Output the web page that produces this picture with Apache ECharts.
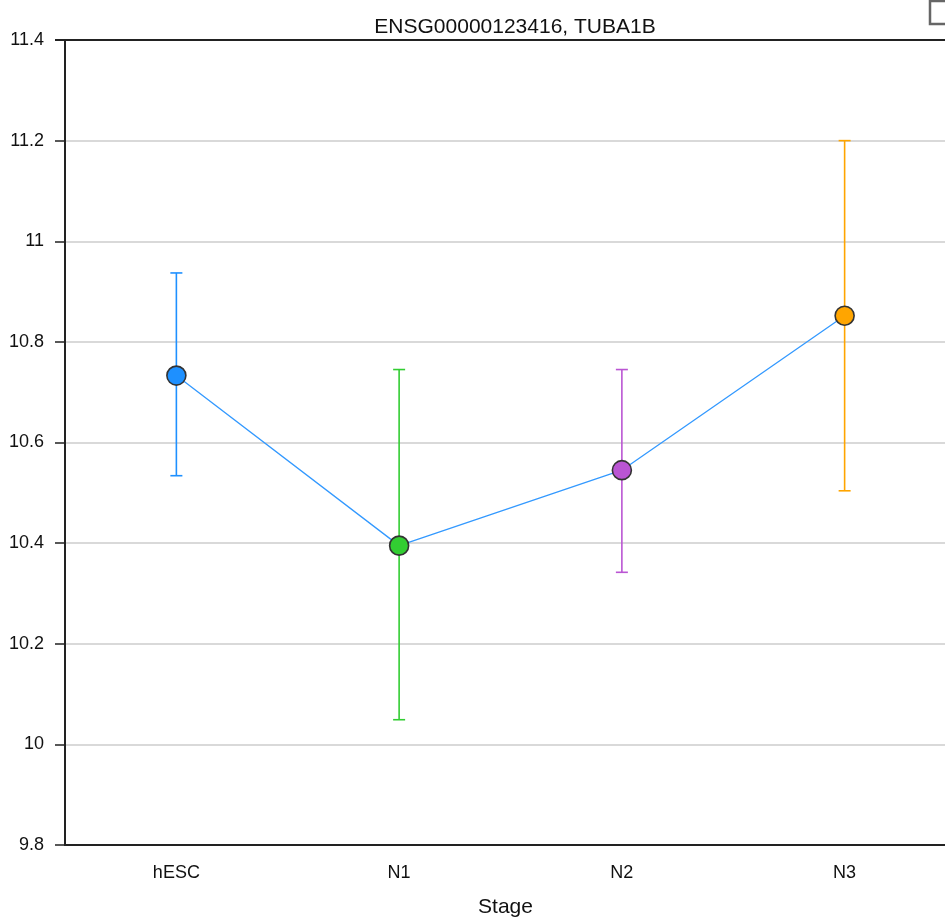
<!DOCTYPE html>
<html>
<head>
<meta charset="utf-8">
<title>TUBA1B</title>
<script src="https://cdn.jsdelivr.net/npm/echarts@6/dist/echarts.min.js"></script>
<style>
  html, body { margin: 0; padding: 0; background: #fff; overflow: hidden; }
  /* the plot runs past the right edge of the window, like the original */
  #chart { width: 956px; height: 923px; }
</style>
</head>
<body>
<div id="chart"></div>
<script>
// data
const stages = ['hESC', 'N1', 'N2', 'N3']
const means = [10.733, 10.395, 10.545, 10.852]
const upper = [10.937, 10.745, 10.745, 11.2]
const lower = [10.534, 10.049, 10.342, 10.504]
const colors = ['#1e90ff', '#32cd32', '#ba55d3', '#ffa500']

const chart = echarts.init(document.getElementById('chart'))

const errData = stages.map((s, i) => [i, lower[i], upper[i]])

const option = {
  animation: false,
  textStyle: { fontFamily: 'Liberation Sans, Arial, sans-serif' },
  title: {
    text: 'ENSG00000123416, TUBA1B',
    left: 510,
    textAlign: 'center',
    top: 12,
    textStyle: { fontSize: 21, fontWeight: 'normal', color: '#111' }
  },
  grid: { left: 65, top: 40, right: 0, bottom: 74, containLabel: false },
  xAxis: {
    type: 'category',
    data: stages,
    name: 'Stage',
    nameLocation: 'middle',
    nameGap: 52,
    nameTextStyle: { fontSize: 21, color: '#111', padding: [0, 0, 0, -10] },
    axisLine: { lineStyle: { color: '#222', width: 2 } },
    axisTick: { alignWithLabel: true, length: 7, lineStyle: { color: '#222', width: 1.5 } },
    axisLabel: { fontSize: 18, color: '#111', margin: 19 },
    splitLine: { show: false }
  },
  yAxis: {
    type: 'value',
    min: 9.8,
    max: 11.4,
    interval: 0.2,
    axisLine: { show: true, lineStyle: { color: '#222', width: 2 } },
    axisTick: { show: true, length: 10, lineStyle: { color: '#222', width: 1.5 } },
    axisLabel: {
      fontSize: 18, color: '#111', margin: 21,
      formatter: v => String(Math.round(v * 10) / 10)
    },
    splitLine: { lineStyle: { color: '#d9d9d9', width: 2 } }
  },
  graphic: [
    // top frame line
    { type: 'line', shape: { x1: 55, y1: 40, x2: 956, y2: 40 }, style: { stroke: '#222', lineWidth: 2 }, z: 10 },
    // small box in the corner
    { type: 'rect', shape: { x: 930, y: 1, width: 22, height: 23 }, style: { fill: '#fff', stroke: '#666', lineWidth: 2.5 }, z: 10 }
  ],
  series: [
    {
      type: 'custom',
      data: errData,
      z: 1,
      renderItem: (params, api) => {
        const i = api.value(0)
        const top = api.coord([i, api.value(2)])
        const bot = api.coord([i, api.value(1)])
        const c = colors[i]
        const hw = 6
        const st = { stroke: c, lineWidth: 1.6 }
        return {
          type: 'group',
          children: [
            { type: 'line', shape: { x1: top[0], y1: top[1], x2: bot[0], y2: bot[1] }, style: st },
            { type: 'line', shape: { x1: top[0] - hw, y1: top[1], x2: top[0] + hw, y2: top[1] }, style: st },
            { type: 'line', shape: { x1: bot[0] - hw, y1: bot[1], x2: bot[0] + hw, y2: bot[1] }, style: st }
          ]
        }
      }
    },
    {
      type: 'line',
      z: 5,
      data: means.map((v, i) => ({ value: v, itemStyle: { color: colors[i] } })),
      symbol: 'circle',
      symbolSize: 19,
      lineStyle: { color: '#3399ff', width: 1.3 },
      itemStyle: { borderColor: '#333', borderWidth: 1.6 }
    }
  ]
}

chart.setOption(option)
</script>
</body>
</html>
